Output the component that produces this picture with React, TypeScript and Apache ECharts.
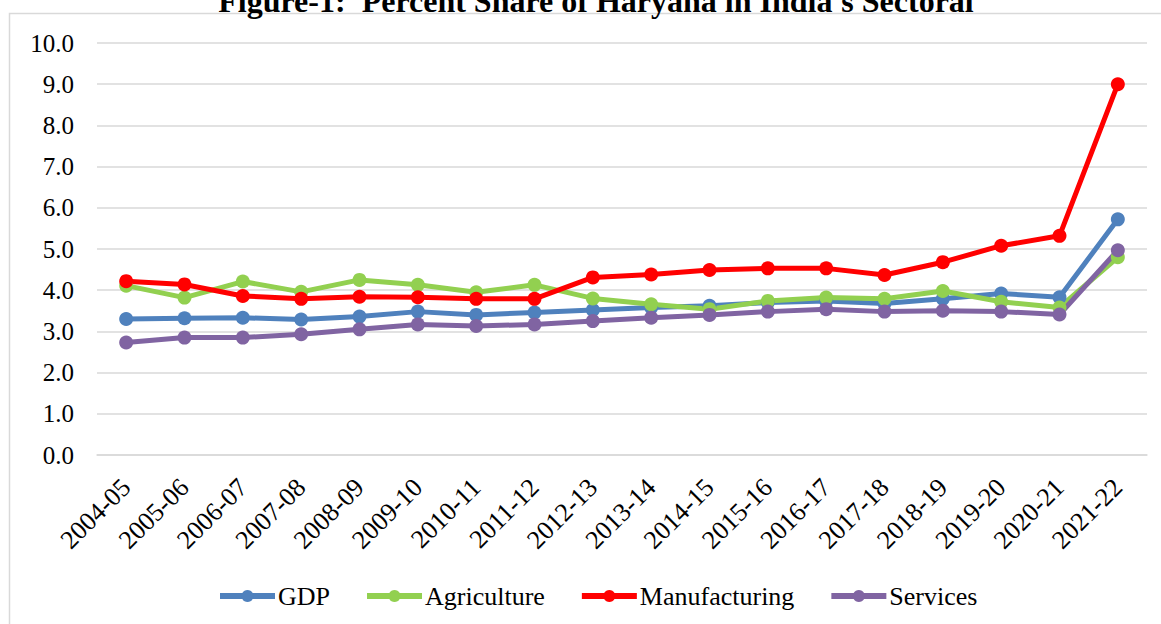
import React, { useEffect, useRef } from "react";
import * as echarts from "echarts";

const years = ["2004-05","2005-06","2006-07","2007-08","2008-09","2009-10","2010-11","2011-12","2012-13","2013-14","2014-15","2015-16","2016-17","2017-18","2018-19","2019-20","2020-21","2021-22"];
const gdp = [3.30,3.32,3.33,3.29,3.36,3.48,3.40,3.46,3.52,3.58,3.62,3.70,3.74,3.68,3.79,3.92,3.83,5.72];
const agriculture = [4.11,3.82,4.21,3.96,4.25,4.13,3.95,4.13,3.80,3.66,3.54,3.74,3.82,3.79,3.98,3.72,3.58,4.80];
const manufacturing = [4.22,4.14,3.86,3.79,3.84,3.83,3.79,3.79,4.31,4.38,4.49,4.53,4.53,4.37,4.68,5.08,5.32,9.00];
const services = [2.73,2.85,2.85,2.93,3.05,3.17,3.13,3.17,3.25,3.33,3.40,3.48,3.54,3.48,3.50,3.48,3.41,4.97];

const FONT = "'Liberation Serif', 'Times New Roman', serif";

export default function App() {
  const ref = useRef<HTMLDivElement>(null);
  useEffect(() => {
    const chart = echarts.init(ref.current!, undefined, { renderer: "svg" });
    const mk = (name: string, data: number[], color: string) => ({
      name,
      type: "line",
      data,
      symbol: "circle",
      symbolSize: 14,
      lineStyle: { width: 5, color },
      itemStyle: { color },
      z: 3,
    });
    chart.setOption({
      animation: false,
      backgroundColor: "#fff",
      textStyle: { fontFamily: FONT },
      title: {
        text: "Figure-1:  Percent Share of Haryana in India's Sectoral",
        left: 591,
        textAlign: "center",
        top: -20,
        textStyle: { fontFamily: FONT, fontSize: 32, fontWeight: "bold", color: "#000" },
      },
      graphic: [
        {
          type: "rect",
          shape: { x: 9.5, y: 13.5, width: 1170, height: 620 },
          style: { fill: "none", stroke: "#d9d9d9", lineWidth: 1.5 },
          silent: true,
          z: -1,
        },
      ],
      grid: { left: 97, right: 14, top: 43, bottom: 169, containLabel: false },
      legend: {
        top: 578,
        left: 212,
        itemWidth: 55,
        itemHeight: 15,
        itemGap: 34,
        itemStyle: { borderWidth: 0 },
        lineStyle: { width: 6 },
        textStyle: { fontFamily: FONT, fontSize: 26, color: "#000", padding: [0, 0, 0, -2] },
        data: ["GDP", "Agriculture", "Manufacturing", "Services"],
      },
      xAxis: {
        type: "category",
        data: years,
        boundaryGap: true,
        axisLine: { lineStyle: { color: "#d9d9d9", width: 1.5 } },
        axisTick: { show: false },
        axisLabel: { rotate: 45, fontFamily: FONT, fontSize: 26, color: "#000", margin: 28, interval: 0 },
      },
      yAxis: {
        type: "value",
        min: 0,
        max: 10,
        interval: 1,
        axisLine: { show: false },
        axisTick: { show: false },
        splitLine: { lineStyle: { color: "#d9d9d9", width: 1.5 } },
        axisLabel: { fontFamily: FONT, fontSize: 25, color: "#000", margin: 23, formatter: (v: number) => v.toFixed(1) },
      },
      series: [
        mk("GDP", gdp, "#4F81BD"),
        mk("Agriculture", agriculture, "#92D050"),
        mk("Manufacturing", manufacturing, "#FF0000"),
        mk("Services", services, "#8064A2"),
      ],
    });
    return () => chart.dispose();
  }, []);
  return <div ref={ref} style={{ position: "absolute", left: 0, top: 0, width: 1161, height: 624 }} />;
}
